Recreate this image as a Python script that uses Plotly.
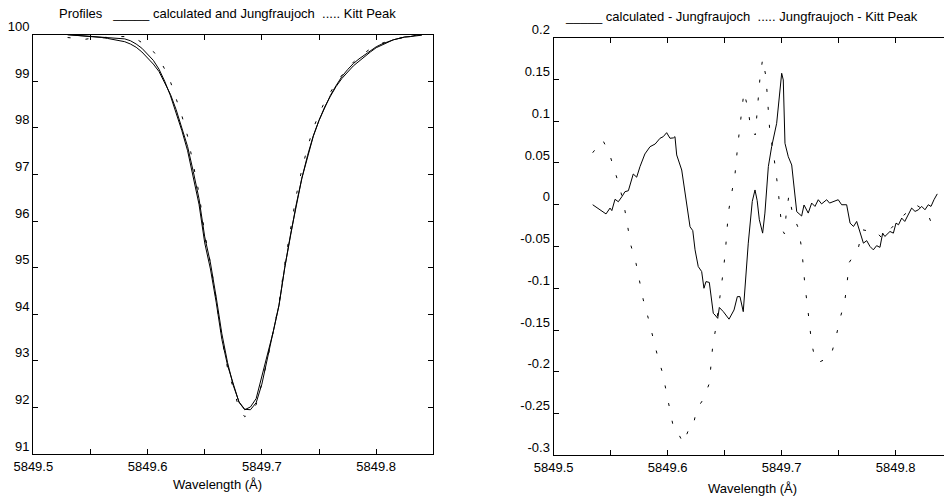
import plotly.graph_objects as go

# ---------------------------------------------------------------------------
# Line profiles (relative intensity, %) on a 0.005 Å wavelength grid
# ---------------------------------------------------------------------------
wl_profile = [
    5849.530, 5849.535, 5849.540, 5849.545, 5849.550, 5849.555, 5849.560, 5849.565, 5849.570, 5849.575,
    5849.580, 5849.585, 5849.590, 5849.595, 5849.600, 5849.605, 5849.610, 5849.615, 5849.620, 5849.625,
    5849.630, 5849.635, 5849.640, 5849.645, 5849.650, 5849.655, 5849.660, 5849.665, 5849.670, 5849.675,
    5849.680, 5849.685, 5849.690, 5849.695, 5849.700, 5849.705, 5849.710, 5849.715, 5849.720, 5849.725,
    5849.730, 5849.735, 5849.740, 5849.745, 5849.750, 5849.755, 5849.760, 5849.765, 5849.770, 5849.775,
    5849.780, 5849.785, 5849.790, 5849.795, 5849.800, 5849.805, 5849.810, 5849.815, 5849.820, 5849.825,
    5849.830, 5849.835, 5849.840,
]

calculated = [
    100.00, 99.99, 99.99, 99.97, 99.97, 99.96, 99.95, 99.94, 99.93, 99.91,
    99.91, 99.87, 99.80, 99.71, 99.58, 99.45, 99.26, 99.00, 98.69, 98.33,
    97.94, 97.51, 96.93, 96.36, 95.53, 94.97, 94.26, 93.46, 92.90, 92.48,
    92.11, 91.95, 92.01, 92.19, 92.66, 93.11, 93.63, 94.19, 95.00, 95.70,
    96.35, 96.92, 97.41, 97.83, 98.16, 98.45, 98.68, 98.89, 99.06, 99.20,
    99.33, 99.43, 99.54, 99.63, 99.72, 99.78, 99.84, 99.89, 99.92, 99.95,
    99.96, 99.99, 100.00,
]

jungfraujoch = [
    100.00, 99.99, 99.99, 99.98, 99.97, 99.96, 99.94, 99.92, 99.90, 99.87,
    99.85, 99.80, 99.73, 99.63, 99.50, 99.37, 99.21, 98.98, 98.72, 98.39,
    98.02, 97.60, 97.06, 96.48, 95.66, 95.10, 94.37, 93.58, 92.96, 92.47,
    92.12, 91.96, 91.95, 92.10, 92.50, 93.05, 93.60, 94.20, 95.00, 95.70,
    96.35, 96.92, 97.40, 97.82, 98.16, 98.45, 98.70, 98.91, 99.10, 99.25,
    99.38, 99.48, 99.57, 99.66, 99.74, 99.80, 99.85, 99.89, 99.92, 99.95,
    99.96, 99.98, 99.99,
]

kitt_peak = [
    99.94, 99.93, 99.91, 99.90, 99.92, 99.92, 99.93, 99.95, 99.96, 99.96,
    99.96, 99.95, 99.91, 99.83, 99.73, 99.64, 99.49, 99.26, 98.99, 98.64,
    98.26, 97.82, 97.23, 96.60, 95.73, 95.10, 94.33, 93.47, 92.84, 92.38,
    91.98, 91.80, 91.87, 92.06, 92.52, 93.05, 93.61, 94.23, 95.09, 95.86,
    96.54, 97.11, 97.59, 97.99, 98.30, 98.56, 98.77, 98.97, 99.13, 99.28,
    99.41, 99.52, 99.62, 99.70, 99.77, 99.82, 99.86, 99.89, 99.92, 99.96,
    99.98, 100.00, 100.00,
]

# ---------------------------------------------------------------------------
# Differences between the profiles
# ---------------------------------------------------------------------------
wl_calc_jf = [
    5849.5342, 5849.5400, 5849.5459, 5849.5494, 5849.5510, 5849.5538, 5849.5567, 5849.5600,
    5849.5625, 5849.5655, 5849.5698, 5849.5728, 5849.5757, 5849.5800, 5849.5845, 5849.5890,
    5849.5933, 5849.5961, 5849.5991, 5849.6020, 5849.6050, 5849.6064, 5849.6079, 5849.6123,
    5849.6167, 5849.6196, 5849.6220, 5849.6240, 5849.6268, 5849.6298, 5849.6318, 5849.6336,
    5849.6365, 5849.6400, 5849.6415, 5849.6439, 5849.6453, 5849.6488, 5849.6538, 5849.6582,
    5849.6611, 5849.6634, 5849.6663, 5849.6707, 5849.6742, 5849.6766, 5849.6785, 5849.6804,
    5849.6833, 5849.6853, 5849.6883, 5849.6912, 5849.6956, 5849.6985, 5849.7000, 5849.7014,
    5849.7029, 5849.7058, 5849.7088, 5849.7102, 5849.7132, 5849.7175, 5849.7196, 5849.7233,
    5849.7263, 5849.7292, 5849.7321, 5849.7350, 5849.7395, 5849.7420, 5849.7453, 5849.7496,
    5849.7526, 5849.7570, 5849.7600, 5849.7630, 5849.7658, 5849.7687, 5849.7717, 5849.7746,
    5849.7775, 5849.7804, 5849.7833, 5849.7862, 5849.7886, 5849.7905, 5849.7950, 5849.7980,
    5849.8003, 5849.8025, 5849.8053, 5849.8080, 5849.8110, 5849.8140, 5849.8170, 5849.8200,
    5849.8228, 5849.8257, 5849.8286, 5849.8310, 5849.8336, 5849.8365,
]
diff_calc_jf = [
    0.000, -0.005, -0.011, -0.004, -0.007, 0.0065, 0.0036, 0.010,
    0.0156, 0.0168, 0.0368, 0.033, 0.0456, 0.0608, 0.0695, 0.0727,
    0.0796, 0.0815, 0.0863, 0.0796, 0.0800, 0.0815, 0.0596, 0.0416,
    0.0017, -0.0263, -0.031, -0.054, -0.074, -0.080, -0.100, -0.092,
    -0.093, -0.130, -0.132, -0.136, -0.123, -0.128, -0.137, -0.126,
    -0.110, -0.110, -0.128, -0.046, 0.004, 0.0177, 0.005, -0.018,
    -0.034, -0.010, 0.0456, 0.0695, 0.0975, 0.1413, 0.1574, 0.1494,
    0.0736, 0.0575, 0.0476, 0.0296, -0.0083, -0.0135, -0.0003, -0.010,
    0.002, -0.002, 0.006, 0.001, 0.006, 0.002, 0.004, 0.006,
    0.000, 0.000, -0.022, -0.026, -0.020, -0.034, -0.046, -0.043,
    -0.050, -0.054, -0.049, -0.051, -0.034, -0.038, -0.032, -0.034,
    -0.022, -0.024, -0.016, -0.020, -0.012, -0.004, -0.008, -0.006,
    -0.002, -0.006, 0.000, -0.002, 0.006, 0.013,
]

wl_jf_kp = [
    5849.5342, 5849.5430, 5849.5488, 5849.5538, 5849.5582, 5849.5620, 5849.5650, 5849.5678,
    5849.5722, 5849.5757, 5849.5786, 5849.5830, 5849.5868, 5849.5909, 5849.5956, 5849.5990,
    5849.6020, 5849.6055, 5849.6088, 5849.6137, 5849.6190, 5849.6220, 5849.6254, 5849.6312,
    5849.6365, 5849.6380, 5849.6395, 5849.6424, 5849.6470, 5849.6488, 5849.6506, 5849.6518,
    5849.6532, 5849.6561, 5849.6590, 5849.6614, 5849.6634, 5849.6658, 5849.6669, 5849.6707,
    5849.6728, 5849.6768, 5849.6783, 5849.6795, 5849.6810, 5849.6833, 5849.6862, 5849.6874,
    5849.6883, 5849.6897, 5849.6926, 5849.6950, 5849.6970, 5849.6985, 5849.7005, 5849.7025,
    5849.7040, 5849.7064, 5849.7096, 5849.7146, 5849.7175, 5849.7190, 5849.7204, 5849.7225,
    5849.7242, 5849.7263, 5849.7298, 5849.7336, 5849.7430, 5849.7474, 5849.7511, 5849.7555,
    5849.7575, 5849.7593, 5849.7672, 5849.7710, 5849.7780, 5849.7820, 5849.7880, 5849.7950,
    5849.8050, 5849.8178, 5849.8277, 5849.8330,
]
diff_jf_kp = [
    0.0623, 0.0775, 0.0616, 0.0408, 0.0197, -0.003, -0.0263, -0.049,
    -0.070, -0.092, -0.114, -0.136, -0.158, -0.180, -0.202, -0.225,
    -0.248, -0.270, -0.2725, -0.2856, -0.267, -0.267, -0.245, -0.233,
    -0.214, -0.192, -0.169, -0.146, -0.101, -0.079, -0.056, -0.032,
    -0.0095, 0.0137, 0.0356, 0.0703, 0.0934, 0.1155, 0.1353, 0.1134,
    0.0915, 0.0835, 0.1062, 0.1294, 0.1526, 0.1745, 0.1533, 0.130,
    0.1074, 0.0855, 0.0635, 0.0396, 0.0168, -0.0063, -0.030, -0.035,
    -0.010, 0.0117, -0.011, -0.028, -0.052, -0.074, -0.097, -0.120,
    -0.143, -0.166, -0.188, -0.188, -0.182, -0.160, -0.137, -0.114,
    -0.092, -0.069, -0.052, -0.030, -0.032, -0.031, -0.040, -0.030,
    -0.015, 0.000, -0.009, -0.028,
]

# ---------------------------------------------------------------------------
# Ticks
# ---------------------------------------------------------------------------
x_tickvals = [5849.50, 5849.55, 5849.60, 5849.65, 5849.70, 5849.75, 5849.80, 5849.85]
x_ticktext = ["5849.5", "", "5849.6", "", "5849.7", "", "5849.8", ""]
left_tickvals = [91, 92, 93, 94, 95, 96, 97, 98, 99, 100]
left_ticktext = ["91", "92", "93", "94", "95", "96", "97", "98", "99", "100"]
right_tickvals = [-0.3, -0.25, -0.2, -0.15, -0.1, -0.05, 0, 0.05, 0.1, 0.15, 0.2]
right_ticktext = ["-0.3", "-0.25", "-0.2", "-0.15", "-0.1", "-0.05", "0", "0.05", "0.1", "0.15", "0.2"]

FONT = "Liberation Sans, Arial, sans-serif"
INK = "black"
DOTS = "3px,15px"
W, H = 944, 497

fig = go.Figure()

fig.add_trace(go.Scatter(x=wl_profile, y=calculated, mode="lines",
                         line=dict(color=INK, width=1), xaxis="x", yaxis="y"))
fig.add_trace(go.Scatter(x=wl_profile, y=jungfraujoch, mode="lines",
                         line=dict(color=INK, width=1), xaxis="x", yaxis="y"))
fig.add_trace(go.Scatter(x=wl_profile, y=kitt_peak, mode="lines",
                         line=dict(color=INK, width=1, dash=DOTS), xaxis="x", yaxis="y"))

fig.add_trace(go.Scatter(x=wl_calc_jf, y=diff_calc_jf, mode="lines",
                         line=dict(color=INK, width=1), xaxis="x2", yaxis="y2"))
fig.add_trace(go.Scatter(x=wl_jf_kp, y=diff_jf_kp, mode="lines",
                         line=dict(color=INK, width=1, dash=DOTS), xaxis="x2", yaxis="y2"))


def px_x(p):
    return p / W


def px_y(p):
    return 1 - p / H


axis_common = dict(
    showgrid=False, zeroline=False, showline=True, linecolor=INK, linewidth=1.3,
    ticks="inside", ticklen=5, tickwidth=1, tickcolor=INK,
    tickfont=dict(family=FONT, size=13, color=INK), automargin=False,
)

fig.update_layout(
    width=W, height=H,
    margin=dict(l=0, r=0, t=0, b=0),
    paper_bgcolor="white", plot_bgcolor="white",
    showlegend=False,
    xaxis=dict(axis_common, domain=[px_x(33.3), px_x(433.3)], range=[5849.5, 5849.85],
               tickmode="array", tickvals=x_tickvals, ticktext=x_ticktext,
               mirror="ticks", anchor="y"),
    yaxis=dict(axis_common, domain=[px_y(454), px_y(34.7)], range=[91, 100],
               tickmode="array", tickvals=left_tickvals, ticktext=left_ticktext,
               mirror="ticks", anchor="x", ticklabelshift=-8),
    xaxis2=dict(axis_common, domain=[px_x(553.7), 1.0], range=[5849.5, 5849.8424],
                tickmode="array", tickvals=x_tickvals, ticktext=x_ticktext,
                mirror="ticks", anchor="y2"),
    yaxis2=dict(axis_common, domain=[px_y(455.3), px_y(37.7)], range=[-0.3, 0.2],
                tickmode="array", tickvals=right_tickvals, ticktext=right_ticktext,
                mirror=False, anchor="x2", ticklabelshift=-8),
)

NB = "\u00a0"
annotations = [
    dict(text=f"Profiles{NB}{NB}{NB}_____ calculated and Jungfraujoch{NB}{NB}..... Kitt Peak",
         x=px_x(227.5), y=px_y(14)),
    dict(text=f"_____ calculated - Jungfraujoch{NB}{NB}..... Jungfraujoch - Kitt Peak",
         x=px_x(741), y=px_y(16.5)),
    dict(text="Wavelength (Å)", x=px_x(217.5), y=px_y(484)),
    dict(text="Wavelength (Å)", x=px_x(752), y=px_y(488)),
]
for a in annotations:
    fig.add_annotation(xref="paper", yref="paper", showarrow=False,
                       xanchor="center", yanchor="middle",
                       font=dict(family=FONT, size=13, color=INK), **a)

fig.write_html("out.html")
